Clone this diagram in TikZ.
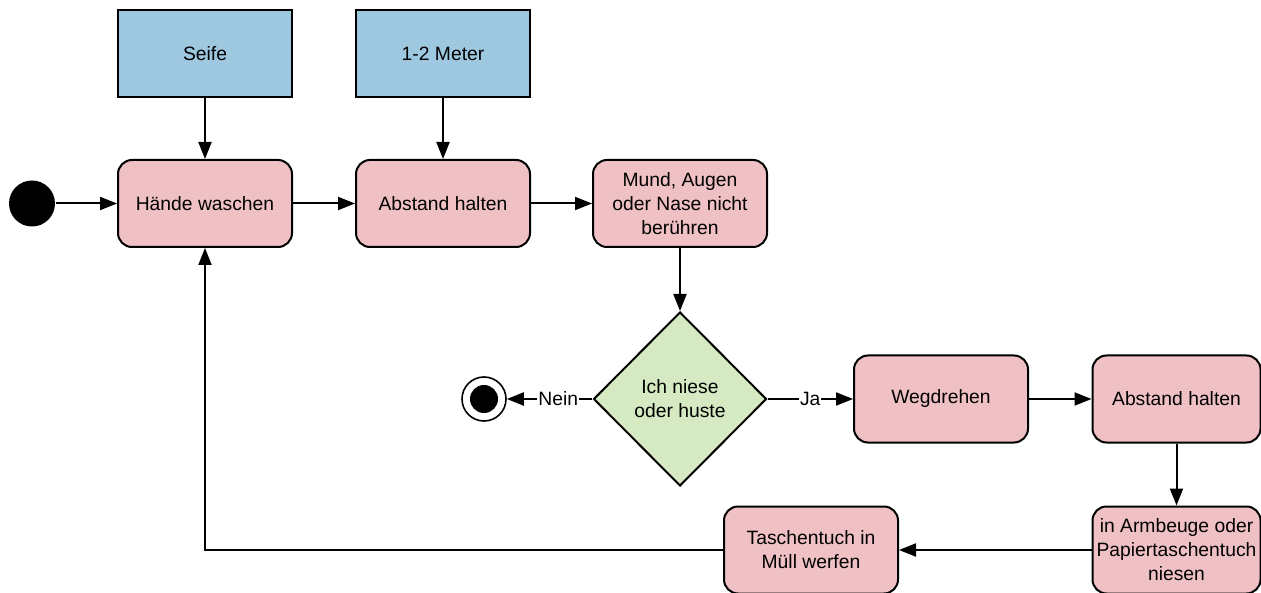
\documentclass[tikz,border=0pt]{standalone}
\usepackage{fontspec}
\setmainfont{Liberation Sans}
\usetikzlibrary{arrows.meta,shapes.geometric}

\definecolor{actpink}{RGB}{239,192,196}
\definecolor{objblue}{RGB}{158,200,224}
\definecolor{decgreen}{RGB}{213,233,194}

\begin{document}
\begin{tikzpicture}[x=1pt,y=-1pt,line width=2pt,
    every node/.style={font=\fontsize{19.3}{24}\selectfont,align=center},
    act/.style={draw,fill=actpink,rounded corners=14pt,minimum width=174pt,minimum height=87pt,inner sep=2pt},
    obj/.style={draw,fill=objblue,minimum width=174pt,minimum height=87pt},
    dec/.style={draw,fill=decgreen,diamond,minimum width=173pt,minimum height=174pt,inner sep=0pt},
    flow/.style={line width=2pt,-{Triangle[length=17pt,width=13pt]}},
    lbl/.style={fill=white,inner sep=1pt}]

      \useasboundingbox (0,0) rectangle (1261,593);

      \node[circle,fill=black,minimum size=46pt,inner sep=0pt] (start) at (32,203.5) {};
      \node[circle,draw,line width=1.6pt,minimum size=44pt,inner sep=0pt] (stop) at (484,399) {};
      \node[circle,fill=black,minimum size=28pt,inner sep=0pt] at (stop) {};

      \node[obj] (seife)  at (205,53.5) {Seife};
      \node[obj] (meter)  at (443,53.5) {1-2 Meter};

      \node[act] (waschen) at (205,203.5) {Hände waschen};
      \node[act] (abstand) at (443,203.5) {Abstand halten};
      \node[act] (mund)    at (680,203.5) {Mund, Augen\\oder Nase nicht\\berühren};
      \node[dec] (niese)   at (680,399) {Ich niese\\oder huste};
      \node[act] (weg)     at (941,399) {Wegdrehen};
      \node[act,minimum width=168pt] (abstand2) at (1176.5,399) {Abstand halten};
      \node[act,minimum width=168pt] (arm)      at (1176.5,550) {in Armbeuge oder\\Papiertaschentuch\\niesen};
      \node[act] (tuch)    at (811,550) {Taschentuch in\\Müll werfen};

      \path[flow] (start) edge (waschen);
      \path[flow] (seife) edge (waschen);
      \path[flow] (meter) edge (abstand);
      \path[flow] (waschen) edge (abstand);
      \path[flow] (abstand) edge (mund);
      \path[flow] (mund) edge (niese);
      \path[flow] (niese) edge node[lbl,pos=.5] {Ja} (weg);
      \path[flow] (niese) edge node[lbl,pos=.4] {Nein} (stop);
      \path[flow] (weg) edge (abstand2);
      \path[flow] (abstand2) edge (arm);
      \path[flow] (arm) edge (tuch);
      \draw[flow] (tuch.west) -| (waschen.south);

\end{tikzpicture}
\end{document}
